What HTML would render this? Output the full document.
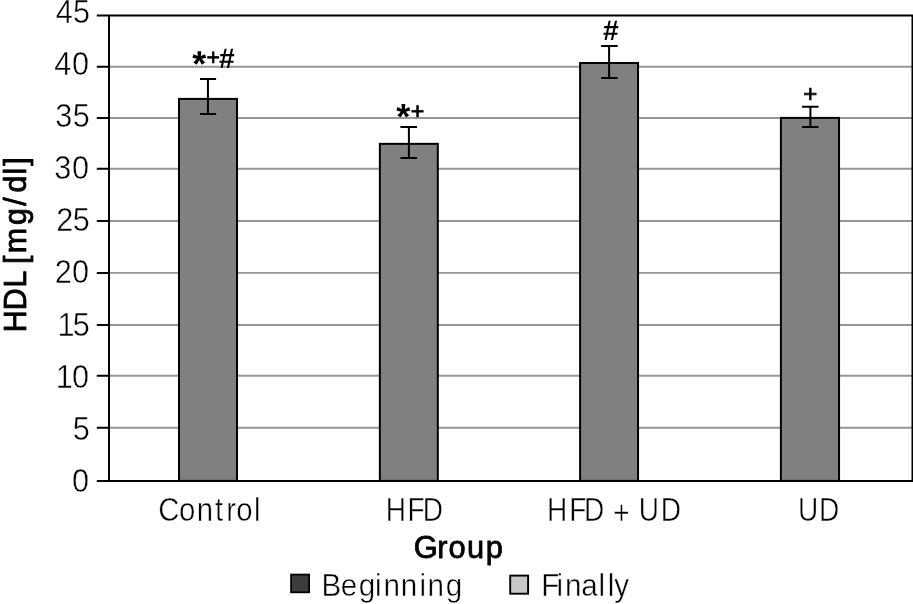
<!DOCTYPE html>
<html>
<head>
<meta charset="utf-8">
<title>HDL by group</title>
<style>
html,body{margin:0;padding:0;background:#fff;}
body{width:913px;height:604px;overflow:hidden;}
svg{display:block;}
text{font-family:"Liberation Sans","DejaVu Sans",sans-serif;fill:#000;}
.t{stroke:#fff;stroke-width:0.45;vector-effect:non-scaling-stroke;}
.b{fill:#000;stroke:#000;stroke-width:0.8;stroke-linejoin:round;vector-effect:non-scaling-stroke;}
.s{font-weight:bold;fill:#000;text-rendering:geometricPrecision;}
</style>
</head>
<body>
<svg width="913" height="604" viewBox="0 0 913 604">
<rect width="913" height="604" fill="#fff"/>
<g stroke="#969696" stroke-width="1.9" fill="none">
<line x1="109.0" x2="913" y1="66.75" y2="66.75"/>
<line x1="109.0" x2="913" y1="118.0" y2="118.0"/>
<line x1="109.0" x2="913" y1="168.75" y2="168.75"/>
<line x1="109.0" x2="913" y1="220.95" y2="220.95"/>
<line x1="109.0" x2="913" y1="272.9" y2="272.9"/>
<line x1="109.0" x2="913" y1="324.95" y2="324.95"/>
<line x1="109.0" x2="913" y1="375.7" y2="375.7"/>
<line x1="109.0" x2="913" y1="427.7" y2="427.7"/>
</g>
<g fill="#808080" stroke="#000" stroke-width="2">
<rect x="179.0" y="98.9" width="58.00" height="382.00"/>
<rect x="379.85" y="143.85" width="57.95" height="337.05"/>
<rect x="580.1" y="63.0" width="57.95" height="417.90"/>
<rect x="780.9" y="117.9" width="58.15" height="363.00"/>
</g>
<g stroke="#000" stroke-width="2" fill="none">
<path d="M200.0 78.9H216.1M207.95 78.9V114.0M200.0 114.0H216.1"/>
<path d="M400.4 127.0H417.0M408.9 127.0V158.05M400.4 158.05H417.0"/>
<path d="M601.1 46.1H617.7M609.1 46.1V78.1M601.1 78.1H617.7"/>
<path d="M802.0 106.7H818.5M810.4 106.7V127.0M802.0 127.0H818.5"/>
</g>
<g stroke="#000" stroke-width="2" fill="none">
<path d="M96.8 15.55H913M96.8 480.9H913M109.0 15.55V480.9M912.5 15.55V480.9"/>
<path d="M96.8 66.75H109.0M96.8 118.0H109.0M96.8 168.75H109.0M96.8 220.95H109.0M96.8 272.9H109.0M96.8 324.95H109.0M96.8 375.7H109.0M96.8 427.7H109.0"/>
</g>
<g>
<text class="t" font-size="33" transform="translate(0 22.83) scale(0.9300 1)" x="59.96 78.44">45</text>
<text class="t" font-size="33" transform="translate(0 74.94) scale(0.9300 1)" x="58.24 77.54">40</text>
<text class="t" font-size="33" transform="translate(0 127.06) scale(0.9300 1)" x="59.41 78.22">35</text>
<text class="t" font-size="33" transform="translate(0 179.18) scale(0.9300 1)" x="58.45 77.54">30</text>
<text class="t" font-size="33" transform="translate(0 231.3) scale(0.9300 1)" x="60.55 78.22">25</text>
<text class="t" font-size="33" transform="translate(0 283.43) scale(0.9300 1)" x="58.89 77.54">20</text>
<text class="t" font-size="33" transform="translate(0 335.55) scale(0.9300 1)" x="61.88 78.22">15</text>
<text class="t" font-size="33" transform="translate(0 387.67) scale(0.9300 1)" x="59.94 77.54">10</text>
<text class="t" font-size="33" transform="translate(0 439.79) scale(0.9300 1)" x="78.22">5</text>
<text class="t" font-size="33" transform="translate(0 491.91) scale(0.9300 1)" x="77.54">0</text>
</g>
<text class="s"><tspan x="192.18" y="76" font-size="35.93">*</tspan><tspan x="206.44" y="65" font-size="22.97" font-weight="normal" stroke="#000" stroke-width="0.7">+</tspan><tspan x="218.90" y="68" font-size="28.19">#</tspan></text>
<text class="s"><tspan x="396.27" y="129" font-size="36.22">*</tspan><tspan x="410.65" y="119" font-size="23.28" font-weight="normal" stroke="#000" stroke-width="0.7">+</tspan></text>
<text class="s"><tspan x="603.10" y="40" font-size="28.19">#</tspan></text>
<text class="s"><tspan x="803.16" y="102" font-size="24.10" font-weight="normal" stroke="#000" stroke-width="0.7">+</tspan></text>
<g>
<text class="t" font-size="32.6" transform="translate(0 520.93) scale(0.9000 1)" x="175.8 198.82 218.58 238.96 251.32 262.6 282.2">Control</text>
<text class="t" font-size="32.6" transform="translate(0 520.93) scale(0.8600 1)" x="448.51 473.81 491.51">HFD</text>
<text class="t" font-size="32.6" transform="translate(0 520.93) scale(0.8600 1)" x="636.19 661.83 679.13 702.67 713.11 732.14 742.88 768.19" y="0 0 0 0 2.8 0 0 0">HFD + UD</text>
<text class="t" font-size="32.6" transform="translate(0 520.93) scale(0.8600 1)" x="927.94 952.38">UD</text>
</g>
<text class="b" font-size="30.5" transform="translate(0 557.6) scale(1.0101 1)" x="409.58 433 444.07 462.31 480.85">Group</text>
<text class="b" font-size="30.5" transform="translate(25.9 0) rotate(-90) scale(0.9939 1)" x="-334.38 -312.2 -289.24 -272.27 -265.73 -254.78 -226.46 -207.11 -193.71 -175.59 -166.86">HDL [mg/dl]</text>
<rect x="291.1" y="574.6" width="18" height="17.7" fill="#3c3c3c" stroke="#000" stroke-width="1.8"/>
<text class="t" font-size="32.2" transform="translate(0 595.93) scale(0.9200 1)" x="349.5 370.37 389.83 407.63 416.73 435.64 455.89 464.66 484.56">Beginning</text>
<rect x="510.2" y="575.6" width="17.9" height="18.1" fill="#c8c8c8" stroke="#000" stroke-width="1.9"/>
<text class="t" font-size="32.2" transform="translate(0 595.93) scale(0.9200 1)" x="588.42 604.91 614.17 631.88 650.65 660.71 667.7">Finally</text>
</svg>
</body>
</html>
